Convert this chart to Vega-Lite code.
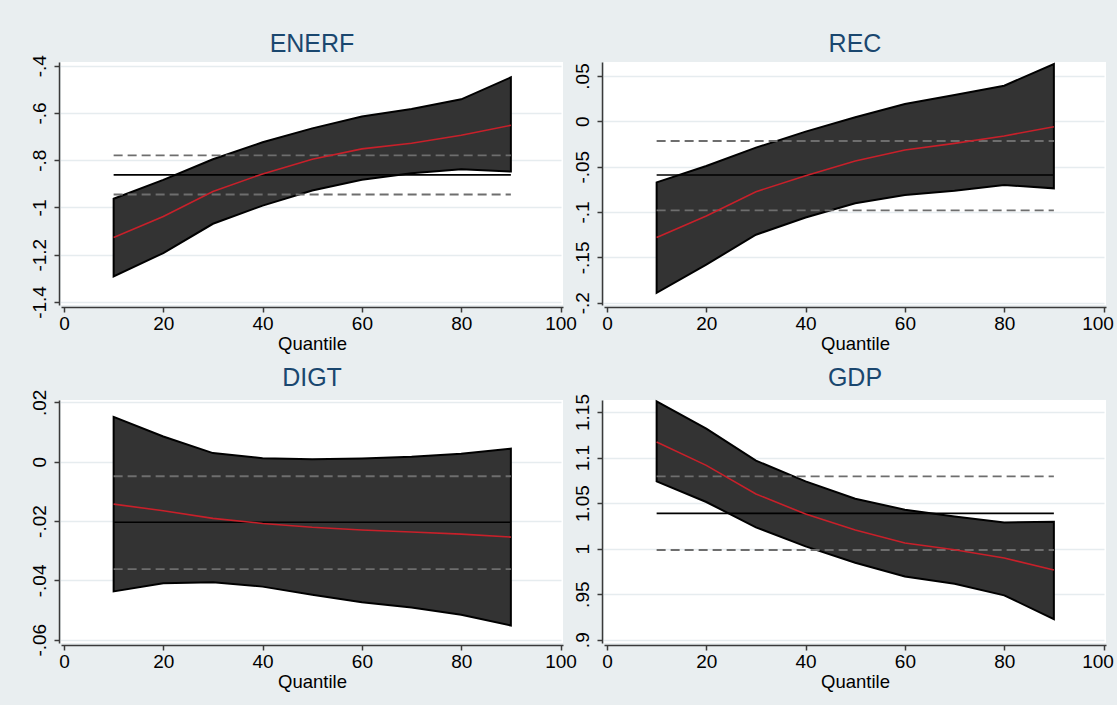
{
  "$schema": "https://vega.github.io/schema/vega-lite/v6.json",
  "background": "#e9eef0",
  "padding": {"left": 30, "top": 31, "right": 4, "bottom": 22},
  "datasets": {
    "q": [
      {"p": "ENERF", "q": 10, "lo": -1.292, "hi": -0.963, "b": -1.127},
      {"p": "ENERF", "q": 20, "lo": -1.193, "hi": -0.883, "b": -1.038},
      {"p": "ENERF", "q": 30, "lo": -1.069, "hi": -0.796, "b": -0.932},
      {"p": "ENERF", "q": 40, "lo": -0.992, "hi": -0.724, "b": -0.858},
      {"p": "ENERF", "q": 50, "lo": -0.928, "hi": -0.665, "b": -0.796},
      {"p": "ENERF", "q": 60, "lo": -0.883, "hi": -0.615, "b": -0.752},
      {"p": "ENERF", "q": 70, "lo": -0.855, "hi": -0.583, "b": -0.728},
      {"p": "ENERF", "q": 80, "lo": -0.838, "hi": -0.542, "b": -0.694},
      {"p": "ENERF", "q": 90, "lo": -0.848, "hi": -0.449, "b": -0.652},
      {"p": "REC", "q": 10, "lo": -0.189, "hi": -0.0673, "b": -0.128},
      {"p": "REC", "q": 20, "lo": -0.158, "hi": -0.0493, "b": -0.1044},
      {"p": "REC", "q": 30, "lo": -0.125, "hi": -0.029, "b": -0.0776},
      {"p": "REC", "q": 40, "lo": -0.106, "hi": -0.0114, "b": -0.06},
      {"p": "REC", "q": 50, "lo": -0.0904, "hi": 0.0044, "b": -0.0438},
      {"p": "REC", "q": 60, "lo": -0.0813, "hi": 0.0191, "b": -0.0316},
      {"p": "REC", "q": 70, "lo": -0.0765, "hi": 0.029, "b": -0.0243},
      {"p": "REC", "q": 80, "lo": -0.0702, "hi": 0.0393, "b": -0.0162},
      {"p": "REC", "q": 90, "lo": -0.0739, "hi": 0.0632, "b": -0.0059},
      {"p": "DIGT", "q": 10, "lo": -0.0437, "hi": 0.0151, "b": -0.0143},
      {"p": "DIGT", "q": 20, "lo": -0.041, "hi": 0.0085, "b": -0.0165},
      {"p": "DIGT", "q": 30, "lo": -0.0406, "hi": 0.0029, "b": -0.0191},
      {"p": "DIGT", "q": 40, "lo": -0.0421, "hi": 0.0012, "b": -0.0208},
      {"p": "DIGT", "q": 50, "lo": -0.0448, "hi": 0.0008, "b": -0.0221},
      {"p": "DIGT", "q": 60, "lo": -0.0474, "hi": 0.0011, "b": -0.023},
      {"p": "DIGT", "q": 70, "lo": -0.0491, "hi": 0.0017, "b": -0.0237},
      {"p": "DIGT", "q": 80, "lo": -0.0516, "hi": 0.0027, "b": -0.0244},
      {"p": "DIGT", "q": 90, "lo": -0.0552, "hi": 0.0044, "b": -0.0254},
      {"p": "GDP", "q": 10, "lo": 1.0739, "hi": 1.1617, "b": 1.1171},
      {"p": "GDP", "q": 20, "lo": 1.0512, "hi": 1.1317, "b": 1.0914},
      {"p": "GDP", "q": 30, "lo": 1.0234, "hi": 1.0966, "b": 1.06},
      {"p": "GDP", "q": 40, "lo": 1.0025, "hi": 1.0739, "b": 1.038},
      {"p": "GDP", "q": 50, "lo": 0.9846, "hi": 1.0548, "b": 1.0204},
      {"p": "GDP", "q": 60, "lo": 0.9695, "hi": 1.0428, "b": 1.0061},
      {"p": "GDP", "q": 70, "lo": 0.9615, "hi": 1.0354, "b": 0.9988},
      {"p": "GDP", "q": 80, "lo": 0.9487, "hi": 1.0288, "b": 0.9897},
      {"p": "GDP", "q": 90, "lo": 0.9227, "hi": 1.0296, "b": 0.9765}
    ],
    "ols": [
      {"p": "ENERF", "q0": 10, "q1": 90, "b": -0.862, "lo": -0.945, "hi": -0.779},
      {"p": "REC", "q0": 10, "q1": 90, "b": -0.0592, "lo": -0.0982, "hi": -0.0217},
      {"p": "DIGT", "q0": 10, "q1": 90, "b": -0.0204, "lo": -0.0362, "hi": -0.0049},
      {"p": "GDP", "q0": 10, "q1": 90, "b": 1.0387, "lo": 0.9985, "hi": 1.0794}
    ]
  },
  "columns": 2,
  "bounds": "flush",
  "spacing": {"row": 95, "column": 41},
  "resolve": {"scale": {"y": "independent", "x": "independent"}},
  "concat": [
    {
      "width": 502, "height": 243,
      "title": {"text": "ENERF", "offset": -2},
      "layer": [
        {"data": {"name": "q"}, "transform": [{"filter": "datum.p === 'ENERF'"}],
         "mark": {"type": "area", "fill": "#333333", "stroke": "#000000", "strokeWidth": 2},
         "encoding": {
           "x": {"field": "q", "type": "quantitative", "scale": {"domain": [-0.6, 100.5], "nice": false, "zero": false}, "axis": {"values": [0, 20, 40, 60, 80, 100], "title": "Quantile"}},
           "y": {"field": "hi", "type": "quantitative", "scale": {"domain": [-1.413, -0.384], "nice": false, "zero": false}, "axis": {"values": [-1.4, -1.2, -1, -0.8, -0.6, -0.4], "title": null}},
           "y2": {"field": "lo"}}},
        {"data": {"name": "ols"}, "transform": [{"filter": "datum.p === 'ENERF'"}],
         "mark": {"type": "rule", "color": "#6e6e6e", "strokeWidth": 1.8, "strokeDash": [9, 5]},
         "encoding": {"x": {"field": "q0", "type": "quantitative"}, "x2": {"field": "q1"}, "y": {"field": "hi", "type": "quantitative"}}},
        {"data": {"name": "ols"}, "transform": [{"filter": "datum.p === 'ENERF'"}],
         "mark": {"type": "rule", "color": "#6e6e6e", "strokeWidth": 1.8, "strokeDash": [9, 5]},
         "encoding": {"x": {"field": "q0", "type": "quantitative"}, "x2": {"field": "q1"}, "y": {"field": "lo", "type": "quantitative"}}},
        {"data": {"name": "ols"}, "transform": [{"filter": "datum.p === 'ENERF'"}],
         "mark": {"type": "rule", "color": "#000000", "strokeWidth": 1.6},
         "encoding": {"x": {"field": "q0", "type": "quantitative"}, "x2": {"field": "q1"}, "y": {"field": "b", "type": "quantitative"}}},
        {"data": {"name": "q"}, "transform": [{"filter": "datum.p === 'ENERF'"}],
         "mark": {"type": "line", "color": "#c8202a", "strokeWidth": 1.6},
         "encoding": {"x": {"field": "q", "type": "quantitative"}, "y": {"field": "b", "type": "quantitative"}}}
      ]
    },
    {
      "width": 502, "height": 243,
      "title": {"text": "REC", "offset": 3},
      "layer": [
        {"data": {"name": "q"}, "transform": [{"filter": "datum.p === 'REC'"}],
         "mark": {"type": "area", "fill": "#333333", "stroke": "#000000", "strokeWidth": 2},
         "encoding": {
           "x": {"field": "q", "type": "quantitative", "scale": {"domain": [-0.6, 100.5], "nice": false, "zero": false}, "axis": {"values": [0, 20, 40, 60, 80, 100], "title": "Quantile", "labelOffset": {"condition": {"test": "datum.value === 100", "value": -6}, "value": 0}}},
           "y": {"field": "hi", "type": "quantitative", "scale": {"domain": [-0.2025, 0.0654], "nice": false, "zero": false}, "axis": {"values": [-0.2, -0.15, -0.1, -0.05, 0, 0.05], "title": null}},
           "y2": {"field": "lo"}}},
        {"data": {"name": "ols"}, "transform": [{"filter": "datum.p === 'REC'"}],
         "mark": {"type": "rule", "color": "#6e6e6e", "strokeWidth": 1.8, "strokeDash": [9, 5]},
         "encoding": {"x": {"field": "q0", "type": "quantitative"}, "x2": {"field": "q1"}, "y": {"field": "hi", "type": "quantitative"}}},
        {"data": {"name": "ols"}, "transform": [{"filter": "datum.p === 'REC'"}],
         "mark": {"type": "rule", "color": "#6e6e6e", "strokeWidth": 1.8, "strokeDash": [9, 5]},
         "encoding": {"x": {"field": "q0", "type": "quantitative"}, "x2": {"field": "q1"}, "y": {"field": "lo", "type": "quantitative"}}},
        {"data": {"name": "ols"}, "transform": [{"filter": "datum.p === 'REC'"}],
         "mark": {"type": "rule", "color": "#000000", "strokeWidth": 1.6},
         "encoding": {"x": {"field": "q0", "type": "quantitative"}, "x2": {"field": "q1"}, "y": {"field": "b", "type": "quantitative"}}},
        {"data": {"name": "q"}, "transform": [{"filter": "datum.p === 'REC'"}],
         "mark": {"type": "line", "color": "#c8202a", "strokeWidth": 1.6},
         "encoding": {"x": {"field": "q", "type": "quantitative"}, "y": {"field": "b", "type": "quantitative"}}}
      ]
    },
    {
      "width": 502, "height": 243,
      "title": {"text": "DIGT", "offset": -2},
      "layer": [
        {"data": {"name": "q"}, "transform": [{"filter": "datum.p === 'DIGT'"}],
         "mark": {"type": "area", "fill": "#333333", "stroke": "#000000", "strokeWidth": 2},
         "encoding": {
           "x": {"field": "q", "type": "quantitative", "scale": {"domain": [-0.6, 100.5], "nice": false, "zero": false}, "axis": {"values": [0, 20, 40, 60, 80, 100], "title": "Quantile"}},
           "y": {"field": "hi", "type": "quantitative", "scale": {"domain": [-0.0611, 0.0208], "nice": false, "zero": false}, "axis": {"values": [-0.06, -0.04, -0.02, 0, 0.02], "title": null}},
           "y2": {"field": "lo"}}},
        {"data": {"name": "ols"}, "transform": [{"filter": "datum.p === 'DIGT'"}],
         "mark": {"type": "rule", "color": "#6e6e6e", "strokeWidth": 1.8, "strokeDash": [9, 5]},
         "encoding": {"x": {"field": "q0", "type": "quantitative"}, "x2": {"field": "q1"}, "y": {"field": "hi", "type": "quantitative"}}},
        {"data": {"name": "ols"}, "transform": [{"filter": "datum.p === 'DIGT'"}],
         "mark": {"type": "rule", "color": "#6e6e6e", "strokeWidth": 1.8, "strokeDash": [9, 5]},
         "encoding": {"x": {"field": "q0", "type": "quantitative"}, "x2": {"field": "q1"}, "y": {"field": "lo", "type": "quantitative"}}},
        {"data": {"name": "ols"}, "transform": [{"filter": "datum.p === 'DIGT'"}],
         "mark": {"type": "rule", "color": "#000000", "strokeWidth": 1.6},
         "encoding": {"x": {"field": "q0", "type": "quantitative"}, "x2": {"field": "q1"}, "y": {"field": "b", "type": "quantitative"}}},
        {"data": {"name": "q"}, "transform": [{"filter": "datum.p === 'DIGT'"}],
         "mark": {"type": "line", "color": "#c8202a", "strokeWidth": 1.6},
         "encoding": {"x": {"field": "q", "type": "quantitative"}, "y": {"field": "b", "type": "quantitative"}}}
      ]
    },
    {
      "width": 502, "height": 243,
      "title": {"text": "GDP", "offset": 3},
      "layer": [
        {"data": {"name": "q"}, "transform": [{"filter": "datum.p === 'GDP'"}],
         "mark": {"type": "area", "fill": "#333333", "stroke": "#000000", "strokeWidth": 2},
         "encoding": {
           "x": {"field": "q", "type": "quantitative", "scale": {"domain": [-0.6, 100.5], "nice": false, "zero": false}, "axis": {"values": [0, 20, 40, 60, 80, 100], "title": "Quantile", "labelOffset": {"condition": {"test": "datum.value === 100", "value": -6}, "value": 0}}},
           "y": {"field": "hi", "type": "quantitative", "scale": {"domain": [0.8964, 1.1632], "nice": false, "zero": false}, "axis": {"values": [0.9, 0.95, 1, 1.05, 1.1, 1.15], "title": null}},
           "y2": {"field": "lo"}}},
        {"data": {"name": "ols"}, "transform": [{"filter": "datum.p === 'GDP'"}],
         "mark": {"type": "rule", "color": "#6e6e6e", "strokeWidth": 1.8, "strokeDash": [9, 5]},
         "encoding": {"x": {"field": "q0", "type": "quantitative"}, "x2": {"field": "q1"}, "y": {"field": "hi", "type": "quantitative"}}},
        {"data": {"name": "ols"}, "transform": [{"filter": "datum.p === 'GDP'"}],
         "mark": {"type": "rule", "color": "#6e6e6e", "strokeWidth": 1.8, "strokeDash": [9, 5]},
         "encoding": {"x": {"field": "q0", "type": "quantitative"}, "x2": {"field": "q1"}, "y": {"field": "lo", "type": "quantitative"}}},
        {"data": {"name": "ols"}, "transform": [{"filter": "datum.p === 'GDP'"}],
         "mark": {"type": "rule", "color": "#000000", "strokeWidth": 1.6},
         "encoding": {"x": {"field": "q0", "type": "quantitative"}, "x2": {"field": "q1"}, "y": {"field": "b", "type": "quantitative"}}},
        {"data": {"name": "q"}, "transform": [{"filter": "datum.p === 'GDP'"}],
         "mark": {"type": "line", "color": "#c8202a", "strokeWidth": 1.6},
         "encoding": {"x": {"field": "q", "type": "quantitative"}, "y": {"field": "b", "type": "quantitative"}}}
      ]
    }
  ],
  "config": {
    "view": {"fill": "#ffffff", "stroke": null},
    "font": "Liberation Sans",
    "title": {"fontSize": 25, "color": "#1a476f", "font": "Liberation Sans", "fontWeight": "normal", "frame": "group", "anchor": "middle"},
    "axis": {
      "labelFont": "Liberation Sans", "labelFontSize": 19, "labelColor": "#000000",
      "titleFont": "Liberation Sans", "titleFontSize": 18.5, "titleFontWeight": "normal", "titleColor": "#000000",
      "domainColor": "#3a3a3a", "domainWidth": 1.5, "tickColor": "#3a3a3a", "tickWidth": 1.5, "tickSize": 5,
      "gridColor": "#e6ecef", "gridWidth": 1.5, "offset": 2, "labelOverlap": false
    },
    "axisX": {"grid": false, "labelPadding": 2, "titlePadding": 1},
    "axisY": {"grid": true, "labelAngle": -90, "labelPadding": 5, "labelExpr": "replace(toString(datum.value), regexp('^(-?)0[.]'), '$1.')"}
  }
}
